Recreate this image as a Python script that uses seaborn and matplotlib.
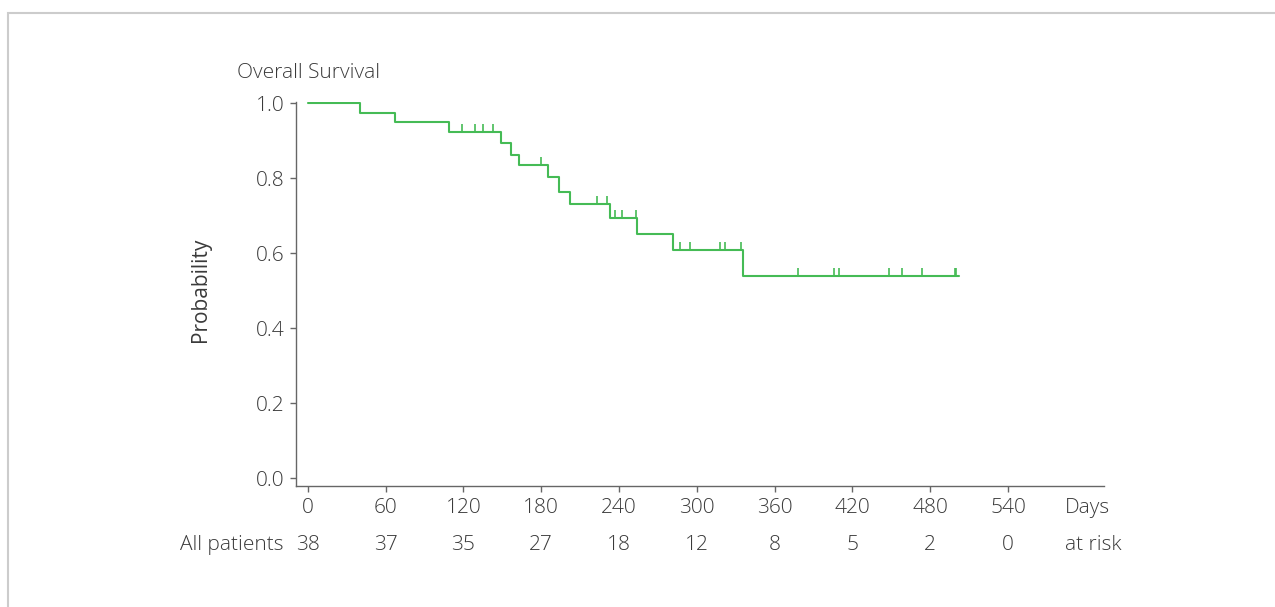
import numpy as np
import pandas as pd
import matplotlib
matplotlib.use("Agg")
import matplotlib.pyplot as plt
import matplotlib.transforms as mtransforms
from matplotlib.patches import Rectangle
import seaborn as sns

# Kaplan-Meier steps (days, survival probability)
step_days = [0, 40, 67, 109, 149, 157, 163, 185, 194, 202, 233, 254, 282, 336, 502]
step_surv = [1.0, 0.974, 0.949, 0.922, 0.893, 0.862, 0.834, 0.802, 0.764, 0.731,
             0.693, 0.651, 0.608, 0.540, 0.540]
# censored observations
censor_days = [119, 129, 135, 143, 180, 223, 231, 237, 242, 253, 287, 295, 318,
               322, 334, 378, 406, 410, 448, 458, 474, 499, 500]

tick_days = [0, 60, 120, 180, 240, 300, 360, 420, 480, 540]
at_risk = [38, 37, 35, 27, 18, 12, 8, 5, 2, 0]

GREEN = "#45bb55"
TEXT = "#3a3a3a"
SPINE = "#666666"
FS = 15

sns.set_theme(style="ticks")
plt.rcParams["font.family"] = ["Open Sans", "DejaVu Sans"]
plt.rcParams["font.weight"] = "light"

fig = plt.figure(figsize=(12.75, 6.07), dpi=100)
ax = fig.add_axes([0.2322, 0.1993, 0.6337, 0.6327])

curve = pd.DataFrame({"days": step_days, "surv": step_surv})
sns.lineplot(data=curve, x="days", y="surv", drawstyle="steps-post",
             color=GREEN, linewidth=1.5, ax=ax, estimator=None)

# censor marks sit on the step function
idx = np.searchsorted(step_days, censor_days, side="right") - 1
censor_surv = np.array(step_surv)[idx]
ax.plot(censor_days, censor_surv, linestyle="none", marker=2,
        markersize=6, markeredgewidth=1.2, color=GREEN)

ax.set_xlim(-9, 614)
ax.set_ylim(-0.021, 1.003)
ax.set_xticks(tick_days)
ax.set_yticks([0.0, 0.2, 0.4, 0.6, 0.8, 1.0])
ax.set_yticklabels(["0.0", "0.2", "0.4", "0.6", "0.8", "1.0"])
ax.set_xlabel("")
ax.set_ylabel("Probability", fontsize=FS, color=TEXT)
ax.yaxis.set_label_coords(-0.105, 0.51)
ax.tick_params(axis="both", labelsize=FS, labelcolor=TEXT, color=SPINE,
               length=4.5, width=1.0, pad=4)
for side in ["left", "bottom"]:
    ax.spines[side].set_color(SPINE)
    ax.spines[side].set_linewidth(1.0)
sns.despine(ax=ax)

ax.text(-0.073, 1.0755, "Overall Survival", transform=ax.transAxes,
        ha="left", va="center", fontsize=FS, color=TEXT)

trans = mtransforms.blended_transform_factory(ax.transData, ax.transAxes)
ax.text(584, -0.056, "Days", transform=trans, ha="left", va="center",
        fontsize=FS, color=TEXT)

# number at risk table
for d, n in zip(tick_days, at_risk):
    ax.text(d, -0.1536, str(n), transform=trans, ha="center", va="center",
            fontsize=FS, color=TEXT, clip_on=False)
ax.text(-19, -0.1536, "All patients", transform=trans, ha="right", va="center",
        fontsize=FS, color=TEXT)
ax.text(584, -0.1536, "at risk", transform=trans, ha="left", va="center",
        fontsize=FS, color=TEXT)

# light frame around the figure
fig.patches.append(Rectangle((8 / 1275, -0.1), 1.2, 1.1 - 13 / 607,
                             transform=fig.transFigure, fill=False,
                             edgecolor="#cccccc", linewidth=1.5))

fig.savefig("out.png", dpi=100)
